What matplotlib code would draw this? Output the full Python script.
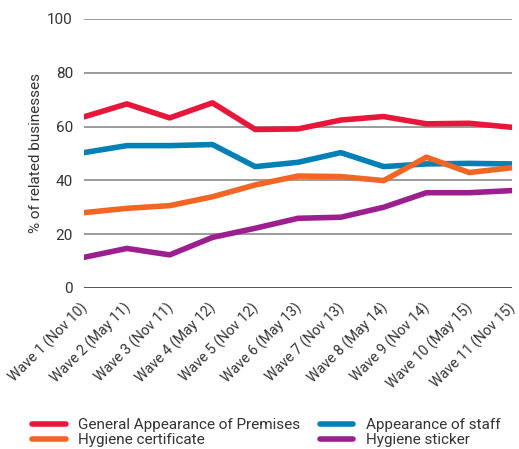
import matplotlib
matplotlib.use("Agg")
import matplotlib.pyplot as plt
import matplotlib.transforms as mtransforms

plt.rcParams['font.family'] = ['Roboto', 'DejaVu Sans']

waves = ["Wave 1 (Nov 10)", "Wave 2 (May 11)", "Wave 3 (Nov 11)", "Wave 4 (May 12)",
         "Wave 5 (Nov 12)", "Wave 6 (May 13)", "Wave 7 (Nov 13)", "Wave 8 (May 14)",
         "Wave 9 (Nov 14)", "Wave 10 (May 15)", "Wave 11 (Nov 15)"]

premises = [63.6, 68.4, 63.2, 68.8, 58.9, 59.1, 62.4, 63.7, 61.0, 61.2, 59.7]
staff = [50.3, 52.9, 52.9, 53.3, 45.1, 46.7, 50.3, 45.1, 46.1, 46.3, 46.1]
certificate = [28.0, 29.6, 30.6, 33.9, 38.3, 41.6, 41.4, 39.9, 48.6, 42.9, 44.7]
sticker = [11.4, 14.7, 12.3, 18.8, 22.2, 25.9, 26.3, 30.0, 35.4, 35.4, 36.2]

yticks = [0, 20, 40, 60, 80, 100]

fig = plt.figure(figsize=(5.19, 4.49), dpi=100)
ax = fig.add_axes([0.162, 0.3586, 0.8245, 0.5994])

x = list(range(len(waves)))
for v in yticks:
    if v == 0:
        ax.axhline(v, color='#444444', lw=2.0, zorder=1)
    else:
        ax.axhline(v, color='#8a8a8a', lw=1.2, zorder=1)

l1, = ax.plot(x, premises, color='#e8173a', lw=4, solid_capstyle='round', zorder=3)
l2, = ax.plot(x, staff, color='#0080b4', lw=4, solid_capstyle='round', zorder=3)
l3, = ax.plot(x, certificate, color='#f26522', lw=4, solid_capstyle='round', zorder=3)
l4, = ax.plot(x, sticker, color='#9b1f8f', lw=4, solid_capstyle='round', zorder=3)

ax.set_xlim(0, len(waves) - 1)
ax.set_ylim(0, 100)
ax.set_yticks(yticks)
ax.set_xticks(x)
ax.set_xticklabels(waves, rotation=45, ha='right', rotation_mode='anchor')
ax.tick_params(axis='y', length=0, labelsize=11, colors='#333333', pad=8)
ax.tick_params(axis='x', length=0, labelsize=10.3, colors='#333333', pad=9)
# nudge rotated labels a little left so the last one stays inside
shift = mtransforms.ScaledTranslation(-4 / 100, 0, fig.dpi_scale_trans)
for lab in ax.get_xticklabels():
    lab.set_transform(lab.get_transform() + shift)
for s in ax.spines.values():
    s.set_visible(False)
ax.set_ylabel("% of related businesses", fontsize=11, color='#333333', labelpad=3)

fig.legend([l1, l3, l2, l4],
           ["General Appearance of Premises", "Hygiene certificate",
            "Appearance of staff", "Hygiene sticker"],
           ncol=2, loc='upper left', bbox_to_anchor=(0.035, 0.1), frameon=False,
           fontsize=11, handlelength=2.2, columnspacing=1.3,
           labelspacing=0.1, handletextpad=0.8, labelcolor='#333333')

fig.savefig("out.png", dpi=100)
